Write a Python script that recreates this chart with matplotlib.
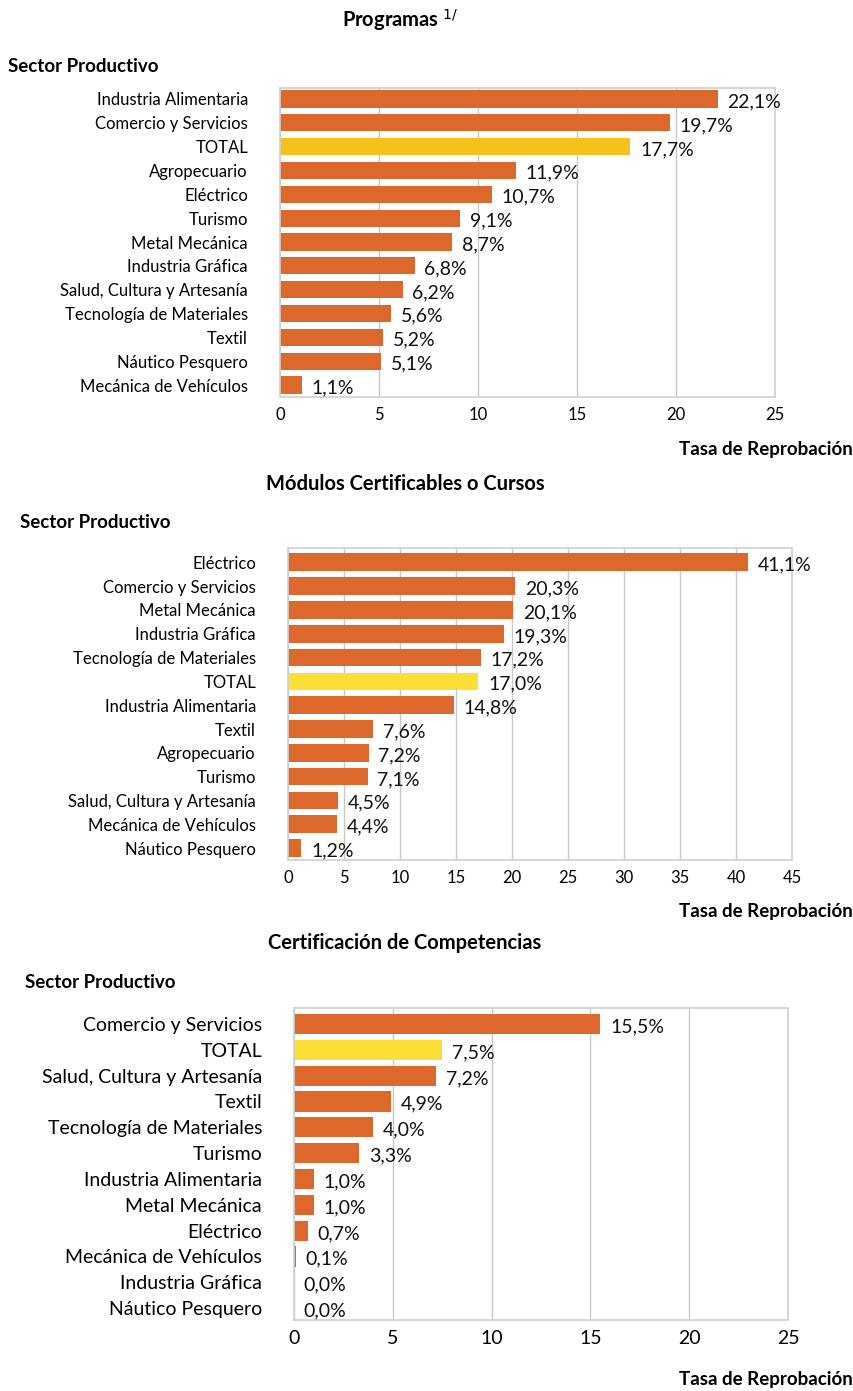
import matplotlib
matplotlib.use("Agg")
import matplotlib.pyplot as plt

plt.rcParams["font.family"] = ["Lato", "DejaVu Sans"]

ORANGE = "#DD682B"

# Programas
prog_sectores = [
    "Industria Alimentaria", "Comercio y Servicios", "TOTAL", "Agropecuario",
    "Eléctrico", "Turismo", "Metal Mecánica", "Industria Gráfica",
    "Salud, Cultura y Artesanía", "Tecnología de Materiales", "Textil",
    "Náutico Pesquero", "Mecánica de Vehículos",
]
prog_tasas = [22.1, 19.7, 17.7, 11.9, 10.7, 9.1, 8.7, 6.8, 6.2, 5.6, 5.2, 5.1, 1.1]

# Módulos Certificables o Cursos
mod_sectores = [
    "Eléctrico", "Comercio y Servicios", "Metal Mecánica", "Industria Gráfica",
    "Tecnología de Materiales", "TOTAL", "Industria Alimentaria", "Textil",
    "Agropecuario", "Turismo", "Salud, Cultura y Artesanía",
    "Mecánica de Vehículos", "Náutico Pesquero",
]
mod_tasas = [41.1, 20.3, 20.1, 19.3, 17.2, 17.0, 14.8, 7.6, 7.2, 7.1, 4.5, 4.4, 1.2]

# Certificación de Competencias
cert_sectores = [
    "Comercio y Servicios", "TOTAL", "Salud, Cultura y Artesanía", "Textil",
    "Tecnología de Materiales", "Turismo", "Industria Alimentaria",
    "Metal Mecánica", "Eléctrico", "Mecánica de Vehículos",
    "Industria Gráfica", "Náutico Pesquero",
]
cert_tasas = [15.5, 7.5, 7.2, 4.9, 4.0, 3.3, 1.0, 1.0, 0.7, 0.1, 0.0, 0.0]

W, H = 854, 1391
fig = plt.figure(figsize=(W / 100, H / 100), dpi=100)


def panel(box, sectores, tasas, xmax, step, total_color, ylim, bar_h,
          lab_fs, val_fs, title, title_xy, sector_xy, tasa_y):
    x0, y0, x1, y1 = box
    ax = fig.add_axes([x0 / W, 1 - y1 / H, (x1 - x0) / W, (y1 - y0) / H])
    colors = [total_color if s == "TOTAL" else ORANGE for s in sectores]
    pos = range(len(sectores))
    ax.barh(pos, tasas, height=bar_h, color=colors, zorder=2)
    for p, v in zip(pos, tasas):
        ax.annotate(f"{v:.1f}%".replace(".", ","), (v, p), xytext=(7, -2),
                    textcoords="offset points", va="center", ha="left",
                    fontsize=val_fs, color="#111111", zorder=3)
    ax.set_xlim(0, xmax)
    ax.set_ylim(*ylim)
    ax.set_yticks(list(pos), labels=sectores, fontsize=lab_fs)
    ax.set_xticks(range(0, xmax + 1, step))
    ax.tick_params(axis="x", labelsize=lab_fs, length=0, pad=7)
    ax.tick_params(axis="y", length=0, pad=23)
    ax.grid(axis="x", color="#c8c8c8", lw=1, zorder=0)
    for sp in ax.spines.values():
        sp.set_color("#d0d0d0")
        sp.set_linewidth(1.2)
    fig.text(title_xy[0] / W, 1 - title_xy[1] / H, title, ha="center",
             va="center", fontsize=14.5, fontweight="bold")
    fig.text(sector_xy[0] / W, 1 - sector_xy[1] / H, "Sector Productivo",
             ha="left", va="center", fontsize=13.5, fontweight="bold")
    fig.text(853 / W, 1 - tasa_y / H, "Tasa de Reprobación", ha="right",
             va="center", fontsize=13.5, fontweight="bold")
    return ax


panel((280, 88, 775, 397), prog_sectores, prog_tasas, 25, 5, "#F5C21B",
      (12.5, -0.46), 0.72, 12, 14, "Programas $^{1/}$", (400, 20), (8, 67), 450)
panel((288, 548, 792, 860), mod_sectores, mod_tasas, 45, 5, "#FDDE37",
      (12.5, -0.6), 0.74, 12, 14, "Módulos Certificables o Cursos",
      (405, 484), (20, 523), 911)
panel((294, 1008, 788, 1320), cert_sectores, cert_tasas, 25, 5, "#FDDE37",
      (11.46, -0.62), 0.78, 14, 14, "Certificación de Competencias",
      (405, 943), (25, 983), 1380)

fig.savefig("out.png", dpi=100)
